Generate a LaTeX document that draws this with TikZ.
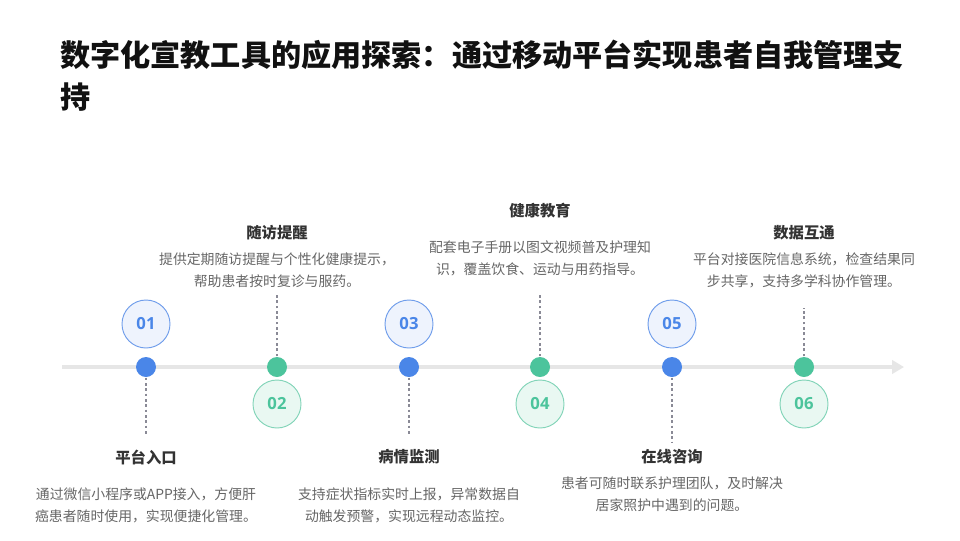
\documentclass[tikz,border=0pt]{standalone}
\usepackage{fontspec}
\setmainfont{Noto Sans CJK SC}
\newfontfamily\numfont{Open Sans}
\usetikzlibrary{arrows.meta}
\definecolor{cblue}{HTML}{4A86E8}
\definecolor{cgreen}{HTML}{4CC49C}
\definecolor{fblue}{HTML}{EEF3FD}
\definecolor{fgreen}{HTML}{E9F8F2}
\definecolor{sblue}{HTML}{6F9DEB}
\definecolor{sgreen}{HTML}{82D4B8}
\definecolor{axisc}{HTML}{E6E6E6}
\definecolor{dashc}{HTML}{8A8A96}
\definecolor{titlec}{HTML}{111111}
\definecolor{headc}{HTML}{333333}
\definecolor{descc}{HTML}{666666}
\tikzset{
  dotblue/.style={circle,fill=cblue,minimum size=15pt,inner sep=0pt},
  dotgreen/.style={circle,fill=cgreen,minimum size=15pt,inner sep=0pt},
  numblue/.style={circle,draw=sblue,line width=0.7pt,fill=fblue,minimum size=36pt,inner sep=0pt,text=cblue,font=\numfont\bfseries\fontsize{12.5}{14}\selectfont},
  numgreen/.style={circle,draw=sgreen,line width=0.7pt,fill=fgreen,minimum size=36pt,inner sep=0pt,text=cgreen,font=\numfont\bfseries\fontsize{12.5}{14}\selectfont},
  head/.style={text=headc,font=\bfseries\fontsize{11.5}{14}\selectfont,inner sep=0pt},
  desc/.style={text=descc,font=\fontsize{10.4}{16.5}\selectfont,align=center,inner sep=0pt},
  conn/.style={dashc,line width=1.1pt,dash pattern=on 2pt off 2pt},
  axis/.style={axisc,line width=2.4pt,-{Triangle[length=9pt,width=10pt]}}
}
\begin{document}
\begin{tikzpicture}[x=0.75pt,y=-0.75pt]
\useasboundingbox (0,0) rectangle (960,540);
\fill[white] (0,0) rectangle (960,540);
% title
\node[anchor=west,inner sep=0pt,text=titlec,font=\bfseries\fontsize{22.6}{31.5}\selectfont,align=left] (title) at (60,76) {数字化宣教工具的应用探索：通过移动平台实现患者自我管理支\\持};
% axis
\coordinate (axs) at (62,367);
\coordinate (axe) at (904,367);
\draw[axis] (axs) -- (axe);
% connectors ends
\coordinate (c1) at (146,436);
\coordinate (c2) at (277,293);
\coordinate (c3) at (409,436);
\coordinate (c4) at (540,293);
\coordinate (c5) at (672,442);
\coordinate (c6) at (804,308);
\draw[conn] (146,367) -- (c1);
\draw[conn] (277,367) -- (c2);
\draw[conn] (409,367) -- (c3);
\draw[conn] (540,367) -- (c4);
\draw[conn] (672,367) -- (c5);
\draw[conn] (804,367) -- (c6);
% dots
\node[dotblue] (d1) at (146,367) {};
\node[dotgreen] (d2) at (277,367) {};
\node[dotblue] (d3) at (409,367) {};
\node[dotgreen] (d4) at (540,367) {};
\node[dotblue] (d5) at (672,367) {};
\node[dotgreen] (d6) at (804,367) {};
% number circles
\node[numblue] (n1) at (146,324) {01};
\node[numgreen] (n2) at (277,404) {02};
\node[numblue] (n3) at (409,324) {03};
\node[numgreen] (n4) at (540,404) {04};
\node[numblue] (n5) at (672,324) {05};
\node[numgreen] (n6) at (804,404) {06};
% item 1
\node[head] (h1) at (146,457) {平台入口};
\node[desc] (t1) at (146,505) {通过微信小程序或APP接入，方便肝\\癌患者随时使用，实现便捷化管理。};
% item 2
\node[head] (h2) at (277,233) {随访提醒};
\node[desc] (t2) at (277,270) {提供定期随访提醒与个性化健康提示，\\帮助患者按时复诊与服药。};
% item 3
\node[head] (h3) at (409,457) {病情监测};
\node[desc] (t3) at (409,505) {支持症状指标实时上报，异常数据自\\动触发预警，实现远程动态监控。};
% item 4
\node[head] (h4) at (540,211) {健康教育};
\node[desc] (t4) at (540,258.5) {配套电子手册以图文视频普及护理知\\识，覆盖饮食、运动与用药指导。};
% item 5
\node[head] (h5) at (672,457) {在线咨询};
\node[desc] (t5) at (672,494) {患者可随时联系护理团队，及时解决\\居家照护中遇到的问题。};
% item 6
\node[head] (h6) at (804,233) {数据互通};
\node[desc] (t6) at (804,270) {平台对接医院信息系统，检查结果同\\步共享，支持多学科协作管理。};
\end{tikzpicture}
\end{document}
